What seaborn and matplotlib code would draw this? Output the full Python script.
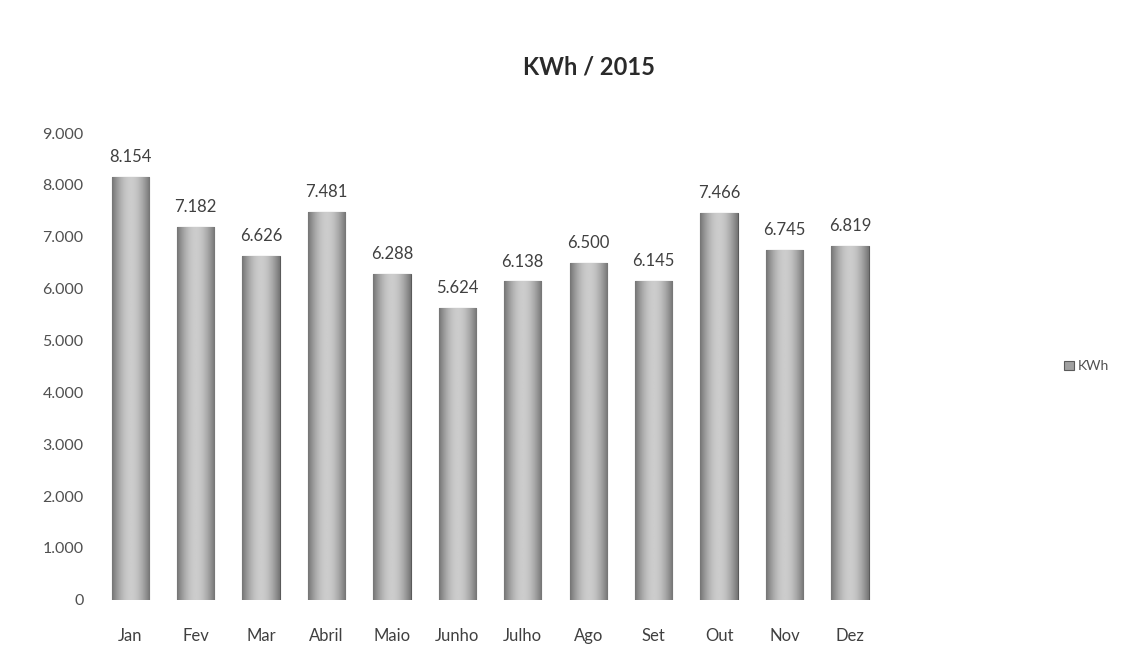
import numpy as np
import pandas as pd
import matplotlib
matplotlib.use("Agg")
import matplotlib.pyplot as plt
import seaborn as sns

meses = ["Jan", "Fev", "Mar", "Abril", "Maio", "Junho", "Julho", "Ago", "Set", "Out", "Nov", "Dez"]
kwh = [8154, 7182, 6626, 7481, 6288, 5624, 6138, 6500, 6145, 7466, 6745, 6819]
yticks = [0, 1000, 2000, 3000, 4000, 5000, 6000, 7000, 8000, 9000]


def br(v):
    return f"{v:,}".replace(",", ".")


sns.set_theme(style="white")
plt.rcParams["font.family"] = ["Lato", "DejaVu Sans"]

df = pd.DataFrame({"Mes": meses, "KWh": kwh})

fig = plt.figure(figsize=(11.33, 6.52), dpi=100)
ax = fig.add_axes([0.086, 0.08, 0.693, 0.716])

sns.barplot(data=df, x="Mes", y="KWh", color="#a0a0a0", width=0.57,
            edgecolor="#5a5a5a", linewidth=0.8, ax=ax, label="KWh")

# cylinder-like shading clipped to each bar
grad = np.linspace(0, 1, 64)
shade = 0.4 + 0.4 * np.sin(np.pi * (grad * 0.9 + 0.05))
img = np.tile(shade, (2, 1))
for p in ax.patches:
    x0, w, h = p.get_x(), p.get_width(), p.get_height()
    im = ax.imshow(img, cmap="gray", vmin=0, vmax=1, aspect="auto",
                   extent=[x0, x0 + w, 0, h], zorder=p.get_zorder() + 0.1)
    im.set_clip_path(p)
    ax.text(x0 + w / 2, h + 230, br(int(h)), ha="center", va="bottom",
            fontsize=12, color="#404040")

ax.set_xlim(-0.5, len(meses) - 0.5)
ax.set_ylim(0, 9000)
ax.set_yticks(yticks)
ax.set_yticklabels([br(t) for t in yticks], fontsize=11.5, color="#505050")
ax.tick_params(axis="x", labelsize=12, colors="#404040", pad=14)
ax.tick_params(axis="y", pad=10, length=0)
ax.set_xlabel("")
ax.set_ylabel("")
sns.despine(ax=ax, left=True, bottom=True)

fig.text(0.52, 0.897, "KWh / 2015", ha="center", va="center",
         fontsize=17, fontweight="bold", color="#2a2a2a")

leg = ax.legend(loc="center left", bbox_to_anchor=(1.215, 0.5), frameon=False,
                fontsize=10, handlelength=0.7, handleheight=0.7, handletextpad=0.3)
for t in leg.get_texts():
    t.set_color("#505050")

fig.savefig("out.png", dpi=100)
